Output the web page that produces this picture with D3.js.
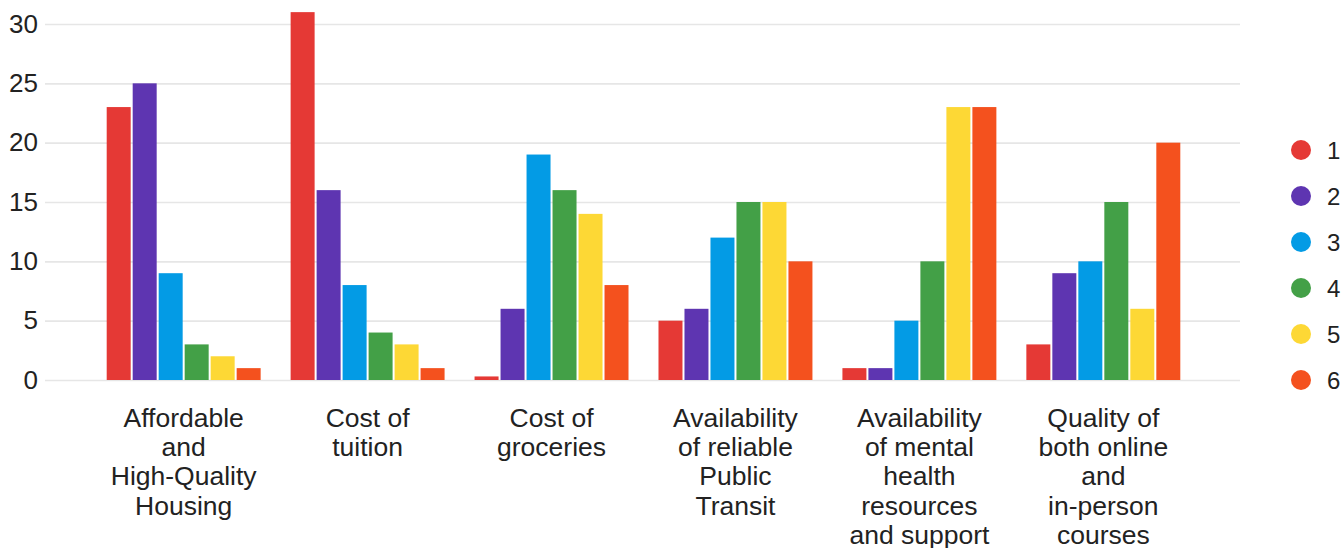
<!DOCTYPE html>
<html>
<head>
<meta charset="utf-8">
<script src="https://cdn.jsdelivr.net/npm/d3@7"></script>
<style>
  body { margin: 0; background: #fff; }
  text { font-family: "Liberation Sans", Arial, sans-serif; fill: #222; }
</style>
</head>
<body>
<div class="chart"></div>
<script>
const categories = [
  ["Affordable", "and", "High-Quality", "Housing"],
  ["Cost of", "tuition"],
  ["Cost of", "groceries"],
  ["Availability", "of reliable", "Public", "Transit"],
  ["Availability", "of mental", "health", "resources", "and support"],
  ["Quality of", "both online", "and", "in-person", "courses"]
]
const seriesNames = ["1", "2", "3", "4", "5", "6"]
const seriesColors = ["#e53935", "#5e35b1", "#039be5", "#43a047", "#fdd835", "#f4511e"]
// values for series 1..6 per category
const values = [
  [23, 25, 9, 3, 2, 1],
  [31, 16, 8, 4, 3, 1],
  [0.3, 6, 19, 16, 14, 8],
  [5, 6, 12, 15, 15, 10],
  [1, 1, 5, 10, 23, 23],
  [3, 9, 10, 15, 6, 20]
]
const yTicks = [0, 5, 10, 15, 20, 25, 30]

const width = 1343, height = 548
const margin = {top: 24, left: 45, right: 103, bottom: 168}

const svg = d3.select(".chart").append("svg")
  .attr("width", width)
  .attr("height", height)

const yScale = d3.scaleLinear()
  .domain([0, 30])
  .range([height - margin.bottom, margin.top])

const x0 = d3.scaleBand()
  .domain(d3.range(categories.length))
  .range([margin.left + 1, width - margin.right + 1])
  .paddingInner(0.163)
  .paddingOuter(0.33)

const x1 = d3.scaleBand()
  .domain(seriesNames)
  .range([0, x0.bandwidth()])
  .paddingInner(0.077)

const colorScale = d3.scaleOrdinal().domain(seriesNames).range(seriesColors)

// grid + y labels
const yAxis = d3.axisLeft(yScale)
  .tickValues(yTicks)
  .tickSize(-(width - margin.right - margin.left))
  .tickPadding(7)
svg.append("g")
  .attr("class", "axis y-axis")
  .attr("transform", `translate(${margin.left},0)`)
  .call(yAxis)
  .call(g => g.select(".domain").remove())
  .call(g => g.selectAll(".tick line").attr("stroke", "#e6e6e6").attr("stroke-width", 1.6))
  .call(g => g.selectAll(".tick text").attr("font-size", 26).style("fill", "#222"))

// bars
const groups = svg.selectAll(".group")
  .data(values)
  .enter()
  .append("g")
  .attr("class", "group")
  .attr("transform", (d, i) => `translate(${x0(i)},0)`)

groups.selectAll("rect")
  .data(d => d.map((v, j) => ({key: seriesNames[j], value: v})))
  .enter()
  .append("rect")
  .attr("x", d => x1(d.key))
  .attr("width", x1.bandwidth())
  .attr("y", d => yScale(d.value))
  .attr("height", d => yScale(0) - yScale(d.value))
  .attr("fill", d => colorScale(d.key))

// category labels
const labels = svg.selectAll(".cat")
  .data(categories)
  .enter()
  .append("text")
  .attr("class", "cat")
  .attr("text-anchor", "middle")
  .attr("font-size", 26.5)
  .attr("x", (d, i) => x0(i) + x0.bandwidth() / 2)
  .attr("y", 427)

labels.selectAll("tspan")
  .data(d => d)
  .enter()
  .append("tspan")
  .attr("x", function() { return d3.select(this.parentNode).attr("x") })
  .attr("dy", (d, i) => i === 0 ? 0 : 29.2)
  .text(d => d)

// legend
const legend = svg.selectAll(".legend")
  .data(seriesNames)
  .enter()
  .append("g")
  .attr("class", "legend")
  .attr("transform", (d, i) => `translate(1301,${150 + i * 46})`)

legend.append("circle")
  .attr("r", 10)
  .attr("fill", d => colorScale(d))

legend.append("text")
  .attr("x", 26)
  .attr("dy", "0.36em")
  .attr("font-size", 24)
  .text(d => d)
</script>
</body>
</html>
